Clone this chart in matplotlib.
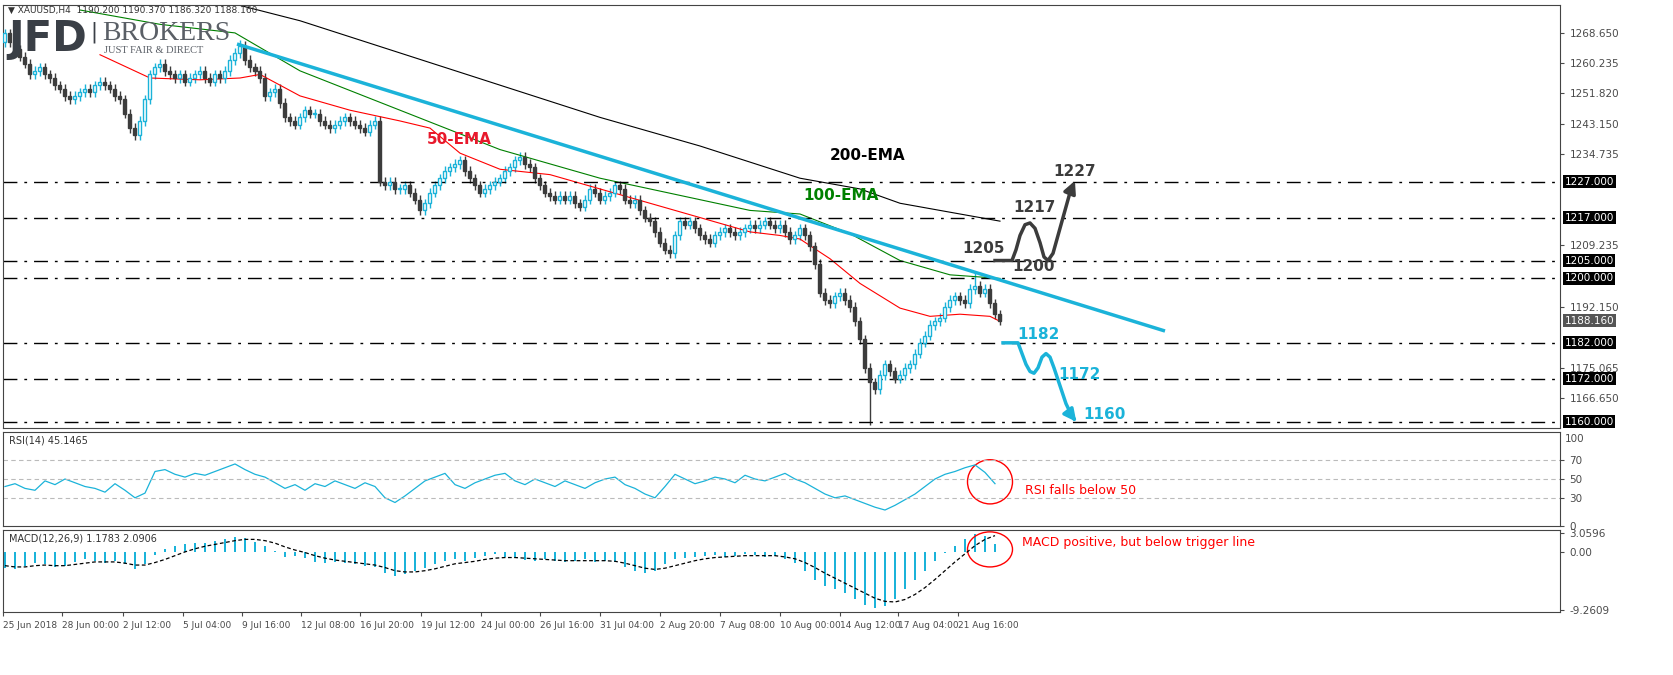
import numpy as np
import matplotlib
matplotlib.use("Agg")
import matplotlib.pyplot as plt
from matplotlib.patches import Ellipse

W, H = 1674, 675

# ---- data ----
closes = [
    1268.5, 1266, 1264, 1262, 1260, 1257, 1258, 1259, 1257, 1256,
    1254, 1253, 1251, 1250, 1251, 1252, 1253, 1252, 1254, 1255,
    1254, 1253, 1251, 1250, 1246, 1242, 1240, 1244, 1250, 1257,
    1259, 1260, 1258, 1257, 1256, 1257, 1255, 1256, 1257, 1258,
    1256, 1255, 1257, 1256, 1258, 1261, 1263, 1265, 1261, 1259,
    1258, 1256, 1251, 1252, 1253, 1249, 1245, 1244, 1243, 1245,
    1247, 1246, 1246, 1244, 1243, 1242, 1243, 1244, 1245, 1244,
    1243, 1242, 1241, 1243, 1244, 1227, 1226, 1227, 1225, 1225,
    1226, 1224, 1222, 1219, 1221, 1224, 1226, 1228, 1230, 1231,
    1232, 1233, 1230, 1228, 1226, 1224, 1225, 1226, 1227, 1228,
    1230, 1231, 1233, 1234, 1232, 1231, 1228, 1226, 1224, 1223,
    1222, 1223, 1222, 1223, 1221, 1220, 1222, 1225, 1224, 1222,
    1223, 1224, 1226, 1225, 1222, 1221, 1222, 1219, 1217, 1216,
    1213, 1210, 1208, 1207, 1212, 1216, 1215, 1216, 1214, 1212,
    1211, 1210, 1212, 1213, 1214, 1213, 1212, 1213, 1214, 1215,
    1214, 1215, 1216, 1215, 1214, 1215, 1213, 1211, 1212, 1214,
    1212, 1209, 1204, 1196, 1194, 1193, 1195, 1196, 1194, 1192,
    1188, 1183, 1175, 1171, 1169, 1173, 1176, 1174, 1172, 1173,
    1175, 1176, 1179, 1182, 1184, 1187, 1188, 1189, 1192, 1194,
    1195, 1194, 1193, 1197, 1198, 1196, 1197, 1193, 1190, 1188.16,
]
first_open = 1266.0
wick = 1.3
long_lows = {173: 1159.0}
long_highs = {194: 1202.0, 47: 1266.5}

ema200_x = [45, 59, 79, 99, 119, 139, 159, 171, 179, 199]
ema200_y = [1277, 1272, 1263, 1254, 1245, 1237, 1228, 1225, 1221, 1216]
ema100_x = [15, 31, 46, 59, 79, 99, 119, 139, 149, 159, 169, 179, 189, 199]
ema100_y = [1275, 1271, 1268.6, 1258, 1247, 1236, 1228, 1222, 1219, 1218, 1212.5, 1205, 1201, 1200]
ema50_x = [19, 29, 39, 47, 51, 59, 69, 79, 85, 91, 99, 109, 119, 129, 139, 149, 155, 159, 165, 171, 179, 185, 191, 197, 199]
ema50_y = [1262.5, 1256, 1255.5, 1256, 1257, 1251, 1247, 1244, 1242, 1235, 1230.5, 1229, 1225, 1221, 1217, 1213, 1212, 1211, 1205.5, 1198.6, 1191.7, 1189.4, 1190, 1189.4, 1188]

trend_x = [46.4, 232]
trend_y = [1265.5, 1185.3]

levels = [1227, 1217, 1205, 1200, 1182, 1172, 1160]
price_ticks = [1268.650, 1260.235, 1251.820, 1243.150, 1234.735, 1209.235, 1192.150, 1175.065, 1166.650]

# scenario paths (pixel x, price)
up_px = [995, 1012, 1016, 1020, 1025, 1030, 1035, 1040, 1044, 1048, 1053, 1058, 1064, 1070]
up_py = [1205, 1205, 1208, 1212, 1215, 1215.5, 1214, 1210, 1206, 1205, 1207, 1212, 1218, 1224]
dn_px = [1003, 1018, 1022, 1026, 1030, 1034, 1038, 1042, 1046, 1050, 1054, 1060, 1066, 1072]
dn_py = [1182, 1182, 1179, 1176, 1174, 1173.5, 1175, 1178, 1179, 1178, 1175, 1170, 1165, 1161.5]

rsi = [
    42, 45, 40, 38, 48, 44, 50, 46, 42, 40, 36, 45, 38, 30, 35, 58, 60, 55, 52, 56,
    54, 58, 62, 66, 60, 55, 52, 46, 40, 44, 38, 45, 42, 48, 44, 40, 46, 42, 30, 25,
    32, 40, 48, 52, 56, 44, 40, 46, 50, 54, 56, 48, 44, 50, 46, 42, 48, 44, 40, 46,
    50, 52, 44, 40, 34, 30, 42, 55, 50, 45, 48, 52, 50, 46, 54, 50, 48, 52, 56, 50,
    46, 40, 34, 30, 32, 28, 24, 20, 17, 22, 28, 34, 42, 50, 55, 58, 62, 65, 57, 45,
]
macd_hist = [
    -2.5, -2.8, -2.2, -1.8, -2, -2.4, -2.2, -1.6, -1.2, -1.4, -1.8, -1.5, -2, -2.8, -2, -0.5, 0.5, 1, 1.2, 1.4,
    1.5, 1.8, 2, 2.4, 2.2, 1.6, 1, 0.2, -0.8, -0.6, -1, -1.6, -1.8, -1.6, -1.8, -2, -2.2, -2.4, -3.4, -3.8,
    -3.5, -3, -2.6, -2, -1.4, -1.2, -1.5, -1, -0.6, -0.4, -0.8, -1, -1.3, -1.4, -1.2, -1.4, -1.6, -1.4, -1.2, -1.6,
    -1.4, -1.6, -2.4, -3, -3.4, -3, -2, -1.2, -1, -0.8, -0.6, -0.5, -0.8, -0.6, -0.4, -0.5, -0.8, -0.6, -1.2, -1.8,
    -3, -4.5, -5.5, -6, -6.5, -7.5, -8.5, -9, -8.6, -7.5, -6, -4.5, -3, -1.5, -0.2, 1, 2, 2.8, 2.6, 1.2,
]
macd_signal = [
    -2.2, -2.4, -2.4, -2.2, -2.1, -2.2, -2.2, -2, -1.8, -1.6, -1.6, -1.6, -1.8, -2.1, -2.1, -1.7, -1.2, -0.6, 0, 0.5,
    0.9, 1.2, 1.5, 1.8, 2, 2, 1.8, 1.4, 0.8, 0.3, -0.1, -0.6, -1, -1.3, -1.5, -1.7, -1.9, -2.1, -2.5, -3,
    -3.2, -3.2, -3, -2.7, -2.3, -1.9, -1.7, -1.5, -1.2, -1, -0.9, -0.9, -1, -1.1, -1.2, -1.3, -1.4, -1.4, -1.4, -1.4,
    -1.4, -1.5, -1.8, -2.2, -2.6, -2.8, -2.6, -2.2, -1.8, -1.4, -1.1, -0.9, -0.8, -0.7, -0.6, -0.6, -0.6, -0.6, -0.8, -1.1,
    -1.7, -2.5, -3.4, -4.2, -5, -5.8, -6.6, -7.4, -7.9, -8, -7.6, -6.8, -5.7, -4.4, -3, -1.6, -0.3, 1, 2, 2.6,
]

date_labels = ["25 Jun 2018", "28 Jun 00:00", "2 Jul 12:00", "5 Jul 04:00", "9 Jul 16:00",
               "12 Jul 08:00", "16 Jul 20:00", "19 Jul 12:00", "24 Jul 00:00", "26 Jul 16:00",
               "31 Jul 04:00", "2 Aug 20:00", "7 Aug 08:00", "10 Aug 00:00", "14 Aug 12:00",
               "17 Aug 04:00", "21 Aug 16:00"]
date_px = [3, 62, 123, 183, 242, 301, 360, 421, 481, 540, 600, 660, 720, 780, 840, 898, 958]

# ---- layout helpers ----
X0, X1 = 3, 1560
def bx(px):
    return (px - 5) / 5.0
xlim = (bx(X0), bx(X1))

plt.rcParams['font.family'] = ['DejaVu Sans']
fig = plt.figure(figsize=(W / 100, H / 100), dpi=100)

def add_ax(top, bottom):
    return fig.add_axes([X0 / W, 1 - bottom / H, (X1 - X0) / W, (bottom - top) / H])

ax = add_ax(5, 428)
ax_r = add_ax(432, 526)
ax_m = add_ax(530, 612)

cyan = '#1bb3d9'
dark = '#3c3c3c'
tick_col = '#4a4a4a'

# candles
n = len(closes)
opens = [first_open] + closes[:-1]
for i in range(n):
    o, c = opens[i], closes[i]
    hi = long_highs.get(i, max(o, c) + wick)
    lo = long_lows.get(i, min(o, c) - wick)
    col = cyan if c >= o else dark
    ax.vlines(i, lo, hi, color=col, lw=1, zorder=2)
    if c >= o:
        ax.add_patch(plt.Rectangle((i - 0.3, o), 0.6, max(c - o, 0.15), fc='white', ec=cyan, lw=1, zorder=3))
    else:
        ax.add_patch(plt.Rectangle((i - 0.3, c), 0.6, o - c, fc=dark, ec=dark, lw=1, zorder=3))

ax.plot(ema200_x, ema200_y, color='black', lw=0.8)
ax.plot(ema100_x, ema100_y, color='green', lw=0.8)
ax.plot(ema50_x, ema50_y, color='red', lw=0.8)
ax.plot(trend_x, trend_y, color=cyan, lw=2.5, solid_capstyle='butt', zorder=4)

for lv in levels:
    ax.axhline(lv, color='black', lw=1, ls=(0, (10, 5, 2, 5)))

ax.plot([bx(p) for p in up_px], up_py, color=dark, lw=2.5, zorder=5)
ax.annotate('', xy=(bx(1076), 1228), xytext=(bx(up_px[-1]), up_py[-1]),
            arrowprops=dict(arrowstyle='-|>', color=dark, lw=2.5, mutation_scale=18), zorder=5)
ax.plot([bx(p) for p in dn_px], dn_py, color=cyan, lw=2.5, zorder=5)
ax.annotate('', xy=(bx(1078), 1159.3), xytext=(bx(dn_px[-1]), dn_py[-1]),
            arrowprops=dict(arrowstyle='-|>', color=cyan, lw=2.5, mutation_scale=18), zorder=5)

lbl = dict(fontsize=11, fontweight='bold', zorder=6)
ax.text(bx(962), 1207, '1205', color=dark, **lbl)
ax.text(bx(1012), 1202, '1200', color=dark, **lbl)
ax.text(bx(1013), 1218.5, '1217', color=dark, **lbl)
ax.text(bx(1053), 1228.5, '1227', color=dark, **lbl)
ax.text(bx(1017), 1183, '1182', color=cyan, **lbl)
ax.text(bx(1058), 1172, '1172', color=cyan, **lbl)
ax.text(bx(1083), 1160.8, '1160', color=cyan, **lbl)
ax.text(bx(830), 1233, '200-EMA', color='black', **lbl)
ax.text(bx(803), 1222, '100-EMA', color='green', **lbl)
ax.text(bx(427), 1237.5, '50-EMA', color='#e8192c', **lbl)

ax.set_xlim(*xlim)
ax.set_ylim(1158.2, 1276.4)

# right-side price labels
ax.yaxis.tick_right()
ax.set_yticks(price_ticks)
ax.set_yticklabels([f'{v:.3f}' for v in price_ticks])
ax.tick_params(axis='y', labelsize=7.5, colors=tick_col, length=3, direction='out', pad=4)
for lv in levels:
    ax.text(1.003, lv, f'{lv:.3f}', transform=ax.get_yaxis_transform(), fontsize=7.5, color='white',
            va='center', ha='left', bbox=dict(boxstyle='square,pad=0.15', fc='black', ec='none'))
ax.text(1.003, closes[-1], f'{closes[-1]:.3f}', transform=ax.get_yaxis_transform(), fontsize=7.5,
        color='white', va='center', ha='left', bbox=dict(boxstyle='square,pad=0.15', fc='#555555', ec='none'))

# header + logo
fig.text(8 / W, 1 - 10 / H, '▼ XAUUSD,H4  1190.200 1190.370 1186.320 1188.160',
         fontsize=6.5, color='#333333', va='center', ha='left', zorder=7)
fig.text(8 / W, 1 - 51 / H, 'JFD', fontsize=30, fontweight='bold', color='#3a3f46', va='baseline', zorder=8)
fig.text(90 / W, 1 - 32 / H, '|', fontsize=15, color='#3a3f46', va='center', zorder=8)
fig.text(102 / W, 1 - 40 / H, 'BROKERS', fontsize=20, family='Liberation Serif', color='#5a5f66',
         va='baseline', zorder=8)
fig.text(104 / W, 1 - 53 / H, 'JUST FAIR & DIRECT', fontsize=7.5, family='Liberation Serif', color='#5a5f66',
         va='baseline', zorder=8)

# RSI
rx = [2 * k for k in range(len(rsi))]
ax_r.plot(rx, rsi, color=cyan, lw=0.9)
for lv in (70, 50, 30):
    ax_r.axhline(lv, color='#bbbbbb', lw=0.8, ls=(0, (4, 3)))
ax_r.set_xlim(*xlim)
ax_r.set_ylim(0, 100)
ax_r.yaxis.tick_right()
ax_r.set_yticks([70, 50, 30, 0])
ax_r.tick_params(axis='y', labelsize=7.5, colors=tick_col, length=3)
ax_r.text(1.003, 0.93, '100', transform=ax_r.transAxes, fontsize=7.5, color=tick_col, va='center')
ax_r.text(0.004, 0.96, 'RSI(14) 45.1465', transform=ax_r.transAxes, fontsize=7, color='#333333', va='top')
ax_r.add_patch(Ellipse((bx(990), 47), 9, 47, fill=False, ec='red', lw=1))
ax_r.text(bx(1025), 34, 'RSI falls below 50', color='red', fontsize=9)

# MACD
mx = [2 * k for k in range(len(macd_hist))]
ax_m.bar(mx, macd_hist, width=0.5, color=cyan)
ax_m.plot(mx, macd_signal, color='black', lw=0.9, ls=(0, (3, 2)))
ax_m.set_xlim(*xlim)
ax_m.set_ylim(-9.6, 3.5)
ax_m.yaxis.tick_right()
ax_m.set_yticks([3.0596, 0.0, -9.2609])
ax_m.set_yticklabels(['3.0596', '0.00', '-9.2609'])
ax_m.tick_params(axis='y', labelsize=7.5, colors=tick_col, length=3)
ax_m.text(0.004, 0.96, 'MACD(12,26,9) 1.1783 2.0906', transform=ax_m.transAxes, fontsize=7, color='#333333', va='top')
ax_m.add_patch(Ellipse((bx(990), 0.4), 9, 5.6, fill=False, ec='red', lw=1))
ax_m.text(bx(1022), 1.0, 'MACD positive, but below trigger line', color='red', fontsize=9)

ax_m.set_xticks([bx(p) for p in date_px])
ax_m.set_xticklabels(date_labels)
ax_m.tick_params(axis='x', labelsize=6.5, colors=tick_col, length=3)
for lab in ax_m.get_xticklabels():
    lab.set_ha('left')

for a in (ax, ax_r):
    a.set_xticks([])
for a in (ax, ax_r, ax_m):
    for s in a.spines.values():
        s.set_color('#444444')
        s.set_linewidth(0.8)

fig.savefig('out.png', dpi=100)
